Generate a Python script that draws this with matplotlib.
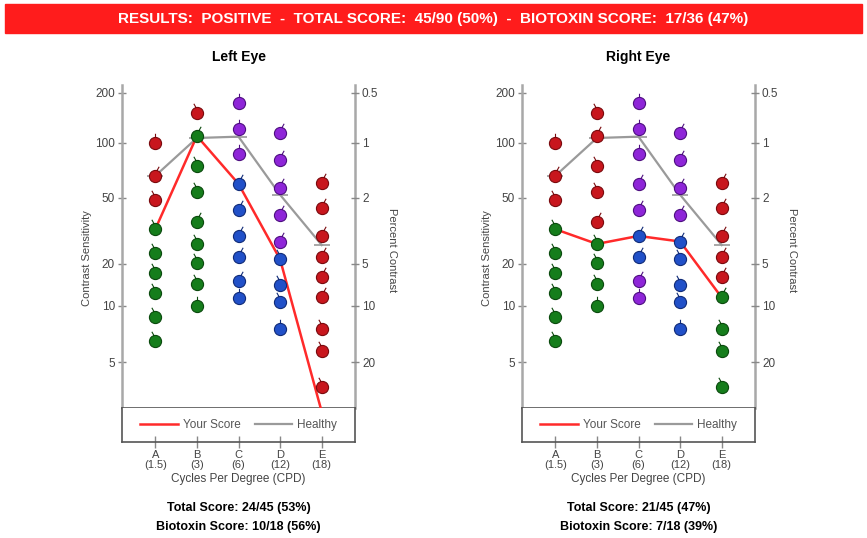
import numpy as np
import matplotlib.pyplot as plt
from matplotlib.patches import Rectangle
from matplotlib.path import Path

plt.rcParams['font.family'] = ['Liberation Sans', 'DejaVu Sans']

cpd_letters = ['A', 'B', 'C', 'D', 'E']
cpd_values = ['1.5', '3', '6', '12', '18']

# contrast sensitivity of each patch, top to bottom, per column
levels_a = [100, 66, 48.6, 32.4, 23.4, 17.3, 12.3, 8.7, 6.5]
levels_b = [152, 110, 74.8, 54.2, 36, 26.4, 20.2, 14.4, 10]
levels_c = [173, 121, 86.7, 59.7, 42.3, 29.5, 21.9, 15.2, 11.4]
levels_d = [115, 80.7, 57, 39.5, 27.3, 21.3, 14.2, 10.7, 7.5]
levels_e = [60.7, 43.3, 29.5, 22.1, 16.2, 11.5, 7.5, 5.7, 3.65]
levels = [levels_a, levels_b, levels_c, levels_d, levels_e]

healthy = [66, 107, 109, 52, 26]
left_score = [32.4, 110, 59.7, 21.3, 2.7]
right_score = [32.4, 26.4, 29.5, 27.3, 11.5]

# patch colours: r red, g green, b blue, p purple
left_colors = ['rrrgggggg', 'rgggggggg', 'pppbbbbbb', 'pppppbbbb', 'rrrrrrrrr']
right_colors = ['rrrgggggg', 'rrrrrgggg', 'pppppbbpp', 'ppppbbbbb', 'rrrrrgggg']

# stem direction of each patch: L left, V vertical, R right
left_stems = ['VRLLLLLLL', 'LRLLRLLL', 'VVVRRRRR', 'RRRRRLLL', 'RRRRRRLLL']
right_stems = ['VRLLLLLLL', 'LRLLRLLL', 'VVVRRRRR', 'RRRRRLLL', 'RRRRRRLLL']

pct_ticks = [0.5, 1, 2, 5, 10, 20]
cs_ticks = [200, 100, 50, 20, 10, 5]

# printed chart scale: log10(CS) against row depth
scale_log = np.log10([1, 5, 10, 20, 50, 100, 200, 1000])
scale_depth = np.array([492, 362, 306, 264, 198, 143, 93, -23], dtype=float)

dot_face = {'r': '#c8161d', 'g': '#157d1b', 'b': '#2150c8', 'p': '#8e25d8'}
dot_edge = {'r': '#7a0a0e', 'g': '#0b4a0e', 'b': '#112c78', 'p': '#4e1080'}


def cs_forward(v):
    v = np.clip(np.asarray(v, dtype=float), 1e-3, None)
    return -np.interp(np.log10(v), scale_log, scale_depth)


def cs_inverse(x):
    x = np.asarray(x, dtype=float)
    return 10 ** np.interp(-x, scale_depth[::-1], scale_log[::-1])


def stem_marker(tilt):
    s = {'L': -1, 'V': 0, 'R': 1}[tilt]
    stem = Path([(s * 0.25, 0.97), (s * 0.6, 1.6)], [Path.MOVETO, Path.LINETO])
    return Path.make_compound_path(Path.unit_circle(), stem)


W, H = 867, 538
fig = plt.figure(figsize=(W / 100, H / 100), dpi=100)

fig.patches.append(Rectangle((5 / W, 1 - 33 / H), 857 / W, 29 / H,
                             transform=fig.transFigure, color='#ff1c1c', zorder=0))
fig.text(0.5, 1 - 18.5 / H,
         'RESULTS:  POSITIVE  -  TOTAL SCORE:  45/90 (50%)  -  BIOTOXIN SCORE:  17/36 (47%)',
         color='white', weight='bold', ha='center', va='center', fontsize=11)


def draw_eye(x0, title, score, colors, stems, total_txt, biotoxin_txt):
    left = x0 / W
    width = 233 / W
    ax = fig.add_axes([left, 1 - 408 / H, width, 323 / H])
    leg = fig.add_axes([left, 1 - 442 / H, width, 34 / H], sharex=ax)

    ax.set_yscale('function', functions=(cs_forward, cs_inverse))
    ax.set_ylim(2.83, 223)
    ax.set_xlim(0.2, 5.8)

    xs = np.arange(1, 6)
    ax.plot(xs, healthy, color='#9a9a9a', lw=1.6, marker='_', ms=12, mew=1.2, zorder=2)
    ax.plot(xs, score, color='#ff2a2a', lw=1.8, zorder=3)

    for i, col in enumerate(levels):
        for j, cs in enumerate(col):
            c = colors[i][j]
            t = stems[i][j] if j < len(stems[i]) else 'V'
            ax.plot(xs[i], cs, linestyle='none', marker=stem_marker(t), ms=14,
                    mfc=dot_face[c], mec=dot_edge[c], mew=0.8, zorder=4)

    ax.spines['top'].set_visible(False)
    for side in ('left', 'right'):
        ax.spines[side].set_color('#a8a8a8')
        ax.spines[side].set_linewidth(1.8)
    ax.spines['bottom'].set_color('#555555')
    ax.spines['bottom'].set_linewidth(1.2)

    ax.set_yticks(cs_ticks)
    ax.set_yticklabels([str(v) for v in cs_ticks])
    ax.yaxis.set_minor_locator(plt.NullLocator())
    ax.tick_params(axis='y', direction='inout', length=6, width=1, color='#888888',
                   labelsize=8.5, labelcolor='#444444', pad=2)
    ax.tick_params(axis='x', bottom=False, labelbottom=False)

    ax2 = ax.twinx()
    ax2.set_yscale('function', functions=(cs_forward, cs_inverse))
    ax2.set_ylim(ax.get_ylim())
    ax2.set_yticks([100 / p for p in pct_ticks])
    ax2.set_yticklabels([('%g' % p) for p in pct_ticks])
    ax2.yaxis.set_minor_locator(plt.NullLocator())
    ax2.tick_params(axis='y', direction='inout', length=6, width=1, color='#888888',
                    labelsize=8.5, labelcolor='#444444', pad=2)
    for side in ax2.spines:
        ax2.spines[side].set_visible(False)

    leg.set_yticks([])
    leg.spines['top'].set_visible(False)
    for side in ('left', 'right', 'bottom'):
        leg.spines[side].set_color('#555555')
        leg.spines[side].set_linewidth(1.2)
    leg.set_xticks(xs)
    leg.set_xticklabels(['%s\n(%s)' % (a, b) for a, b in zip(cpd_letters, cpd_values)],
                        linespacing=1.0)
    leg.tick_params(axis='x', direction='inout', length=8, width=1, color='#888888',
                    labelsize=8, labelcolor='#444444', pad=2)
    leg.plot([], [], color='#ff2a2a', lw=1.8, label='Your Score')
    leg.plot([], [], color='#9a9a9a', lw=1.6, label='Healthy')
    leg.legend(loc='center', ncol=2, frameon=False, fontsize=8.5, handlelength=3.2,
               columnspacing=1.2, handletextpad=0.4, labelcolor='#555555')

    cx = (x0 + 116.5) / W
    fig.text(cx, 1 - 57 / H, title, ha='center', va='center', weight='bold', fontsize=10)
    fig.text(cx, 1 - 479 / H, 'Cycles Per Degree (CPD)', ha='center', va='center',
             fontsize=8.5, color='#444444')
    fig.text(cx, 1 - 508 / H, total_txt, ha='center', va='center', weight='bold', fontsize=9)
    fig.text(cx, 1 - 527 / H, biotoxin_txt, ha='center', va='center', weight='bold', fontsize=9)
    fig.text((x0 - 35) / W, 1 - 258 / H, 'Contrast Sensitivity', rotation=90,
             ha='center', va='center', fontsize=8, color='#444444')
    fig.text((x0 + 270) / W, 1 - 250 / H, 'Percent Contrast', rotation=270,
             ha='center', va='center', fontsize=8, color='#444444')


draw_eye(122, 'Left Eye', left_score, left_colors, left_stems,
         'Total Score: 24/45 (53%)', 'Biotoxin Score: 10/18 (56%)')
draw_eye(522, 'Right Eye', right_score, right_colors, right_stems,
         'Total Score: 21/45 (47%)', 'Biotoxin Score: 7/18 (39%)')

fig.savefig('out.png', dpi=100)
